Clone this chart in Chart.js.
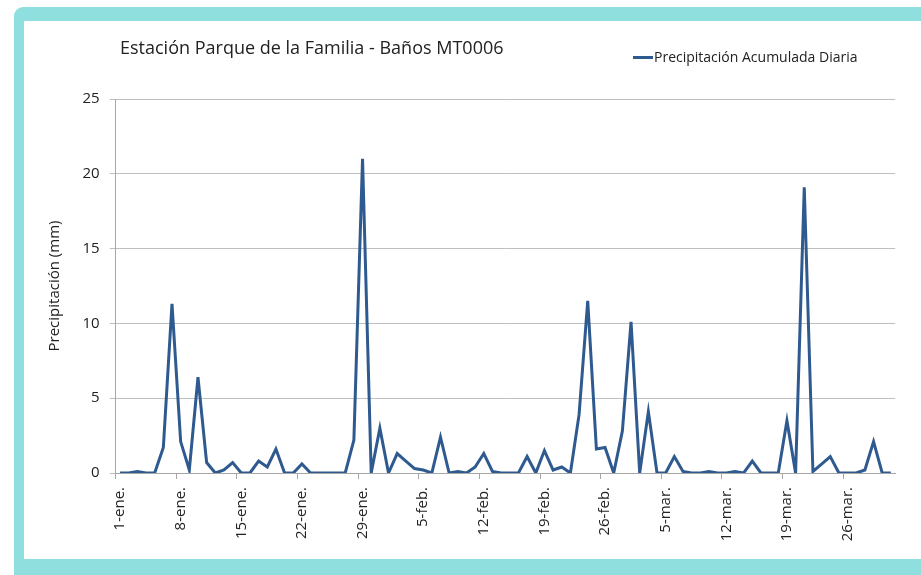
<!DOCTYPE html>
<html>
<head>
<meta charset="utf-8">
<script src="https://cdn.jsdelivr.net/npm/chart.js@4"></script>
<style>
  html, body { margin: 0; padding: 0; background: #fff; }
  #wrap { position: relative; width: 921px; height: 575px; overflow: hidden; font-family: "Open Sans", sans-serif; }
  #frame { position: absolute; left: 14px; top: 7px; width: 920px; height: 580px; background: #8FDFDF; border-top-left-radius: 9px; }
  #inner { position: absolute; left: 24px; top: 21px; width: 900px; height: 538px; background: #fff; }
  #c { position: absolute; left: 0; top: 0; }
  #title { position: absolute; left: 120px; top: 35px; line-height: 24px; font-size: 18px; color: #222; white-space: nowrap; }
  #legLine { position: absolute; left: 633px; top: 56px; width: 20px; height: 3px; background: #2F5A8F; }
  #legText { position: absolute; left: 654px; top: 47px; line-height: 20px; font-size: 14px; color: #222; white-space: nowrap; }
</style>
</head>
<body>
<div id="wrap">
  <div id="frame"></div>
  <div id="inner"></div>
  <canvas id="c" width="921" height="575"></canvas>
  <div id="title">Estación Parque de la Familia - Baños MT0006</div>
  <div id="legLine"></div>
  <div id="legText">Precipitación Acumulada Diaria</div>
</div>
<script>
const months = ['ene.', 'feb.', 'mar.'];
const monthDays = [31, 28, 31];
const tickLabels = ['1-ene.', '8-ene.', '15-ene.', '22-ene.', '29-ene.', '5-feb.', '12-feb.', '19-feb.', '26-feb.', '5-mar.', '12-mar.', '19-mar.', '26-mar.'];
const precipitation = [
  0, 0, 0.1, 0, 0, 1.7, 11.3, 2.1, 0.2, 6.4,
  0.7, 0, 0.2, 0.7, 0, 0, 0.8, 0.4, 1.6, 0,
  0, 0.6, 0, 0, 0, 0, 0, 2.2, 21.0, 0,
  3.0, 0, 1.3, 0.8, 0.3, 0.2, 0, 2.4, 0, 0.1,
  0, 0.4, 1.3, 0.1, 0, 0, 0, 1.1, 0, 1.5,
  0.2, 0.4, 0, 3.9, 11.5, 1.6, 1.7, 0, 2.8, 10.1,
  0, 4.1, 0, 0, 1.1, 0.1, 0, 0, 0.1, 0,
  0, 0.1, 0, 0.8, 0, 0, 0, 3.5, 0, 19.1,
  0.1, 0.6, 1.1, 0, 0, 0, 0.2, 2.1, 0, 0
];
const yTicks = [0, 5, 10, 15, 20, 25];

const categories = [];
months.forEach((m, mi) => {
  for (let d = 1; d <= monthDays[mi]; d++) categories.push(d + '-' + m);
});

const lineColor = '#2F5A8F';
const axisGray = '#A6A6A6';
const gridGray = '#BFBFBF';
const textColor = '#222';

new Chart(document.getElementById('c'), {
  type: 'line',
  data: {
    labels: categories,
    datasets: [{
      label: 'Precipitación Acumulada Diaria',
      data: precipitation,
      borderColor: lineColor,
      backgroundColor: lineColor,
      borderWidth: 3,
      pointRadius: 0,
      tension: 0,
      fill: false,
      borderJoinStyle: 'miter'
    }]
  },
  options: {
    responsive: false,
    devicePixelRatio: 1,
    animation: false,
    layout: { padding: { left: 0, right: 25.8, top: 99, bottom: 0 } },
    plugins: {
      legend: { display: false },
      title: { display: false },
      tooltip: { enabled: false }
    },
    scales: {
      x: {
        type: 'category',
        offset: true,
        grid: {
          offset: true,
          drawOnChartArea: false,
          drawTicks: true,
          tickLength: 6,
          color: (ctx) => (ctx.index % 7 === 0 ? axisGray : 'rgba(0,0,0,0)')
        },
        border: { color: axisGray, width: 1 },
        ticks: {
          autoSkip: false,
          maxRotation: 90,
          minRotation: 90,
          padding: 8,
          color: textColor,
          font: { family: '"Open Sans", sans-serif', size: 15 },
          callback: (v, i) => (i % 7 === 0 ? tickLabels[i / 7] : '')
        },
        afterFit: (s) => { s.height = 102; }
      },
      y: {
        min: 0,
        max: 25,
        afterBuildTicks: (s) => { s.ticks = yTicks.map(v => ({ value: v })); },
        grid: { color: gridGray, tickLength: 6, drawTicks: true },
        border: { color: axisGray, width: 1 },
        ticks: {
          padding: 10,
          color: textColor,
          font: { family: '"Open Sans", sans-serif', size: 15 }
        },
        title: {
          display: true,
          text: 'Precipitación (mm)',
          color: textColor,
          font: { family: '"Open Sans", sans-serif', size: 15 },
          padding: { top: 46, bottom: 0 }
        },
        afterFit: (s) => { s.width = 115.7; }
      }
    }
  }
});
</script>
</body>
</html>
